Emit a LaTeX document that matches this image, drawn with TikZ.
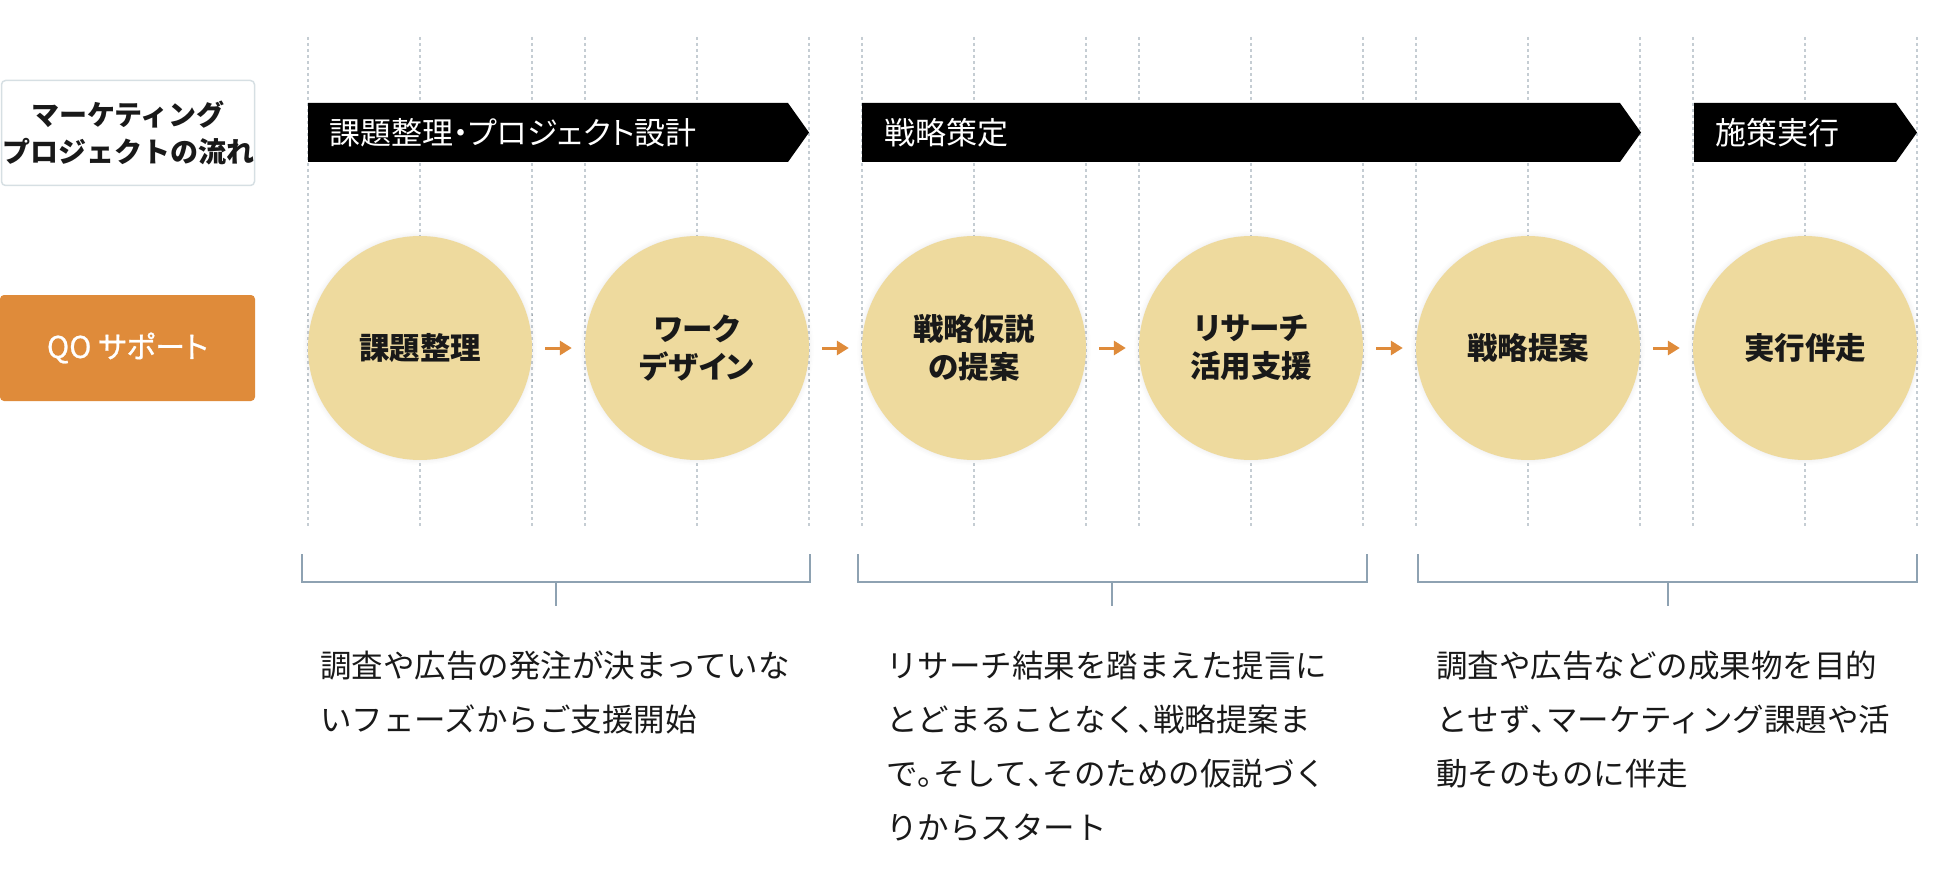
\documentclass[tikz,border=0pt]{standalone}
\usepackage{fontspec}
\setmainfont{Noto Sans CJK JP}
\newfontfamily\pfont[RawFeature=+palt]{Noto Sans CJK JP}
\newfontfamily\mfont[RawFeature=+palt,FakeBold=0.8]{Noto Sans CJK JP}
\usetikzlibrary{arrows.meta,shadows.blur}
\newcommand\hwp[1]{\makebox[0.5em][l]{#1}}
\definecolor{circfill}{HTML}{EEDA9E}
\definecolor{qoorange}{HTML}{DF8B3A}
\definecolor{dotgray}{HTML}{C5CDD3}
\definecolor{brk}{HTML}{8EA2B2}
\definecolor{boxline}{HTML}{D6DFE3}
\tikzset{
  guide/.style={draw=dotgray,line width=1.2pt,dash pattern=on 3pt off 3pt},
  stage/.style={circle,fill=circfill,minimum size=224pt,inner sep=0pt,align=center,
    font=\pfont\bfseries\fontsize{30.5}{38}\selectfont,text=black!90,
    blur shadow={shadow xshift=0pt,shadow yshift=0pt,shadow blur radius=5pt,shadow opacity=10}},
  flow/.style={draw=qoorange,line width=3pt,-{Triangle[length=12pt,width=14pt]},shorten <=13pt,shorten >=13pt},
  bannertext/.style={anchor=west,inner sep=0pt,text=white,font=\pfont\fontsize{31}{34}\selectfont},
  bracket/.style={draw=brk,line width=2pt},
  desc/.style={anchor=north west,inner sep=0pt,align=left,font=\fontsize{31.5}{54}\selectfont,text=black!90}
}
\begin{document}
\begin{tikzpicture}[x=1pt,y=-1pt]
\useasboundingbox (0,0) rectangle (1942,885);
% guide lines
\foreach \c in {420,697,974,1251,1528,1805}{
  \draw[guide] (\c-112,37) -- (\c-112,526);
  \draw[guide] (\c,37) -- (\c,526);
  \draw[guide] (\c+112,37) -- (\c+112,526);
}
% left labels
\node[draw=boxline,line width=1.5pt,rounded corners=4pt,minimum width=253pt,minimum height=105pt,
  inner sep=0pt,align=center,font=\bfseries\fontsize{28}{37}\selectfont,text=black!90] (flowlabel) at (128,133)
  {マーケティング\\プロジェクトの流れ};
\node[fill=qoorange,rounded corners=4pt,minimum width=255pt,minimum height=106pt,inner sep=0pt,
  text=white,font=\mfont\fontsize{30}{34}\selectfont] (qolabel) at (127.5,348) {QO サポート};
% banners
\fill[black] (308,103) -- (788,103) -- (809,132.5) -- (788,162) -- (308,162) -- cycle;
\node[bannertext] (b1) at (329,132.5) {課題整理・プロジェクト設計};
\fill[black] (862,103) -- (1620,103) -- (1641,132.5) -- (1620,162) -- (862,162) -- cycle;
\node[bannertext] (b2) at (884,132.5) {戦略策定};
\fill[black] (1694,103) -- (1896,103) -- (1917,132.5) -- (1896,162) -- (1694,162) -- cycle;
\node[bannertext] (b3) at (1715,132.5) {施策実行};
% circles
\node[stage] (c1) at (420,348) {課題整理};
\node[stage] (c2) at (697,348) {ワーク\\デザイン};
\node[stage] (c3) at (974,348) {戦略仮説\\の提案};
\node[stage] (c4) at (1251,348) {リサーチ\\活用支援};
\node[stage] (c5) at (1528,348) {戦略提案};
\node[stage] (c6) at (1805,348) {実行伴走};
\draw[flow] (c1) -- (c2);
\draw[flow] (c2) -- (c3);
\draw[flow] (c3) -- (c4);
\draw[flow] (c4) -- (c5);
\draw[flow] (c5) -- (c6);
% brackets
\draw[bracket] (302,554) -- (302,582) -- (810,582) -- (810,554);
\draw[bracket] (556,582) -- (556,606);
\draw[bracket] (858,554) -- (858,582) -- (1367,582) -- (1367,554);
\draw[bracket] (1112,582) -- (1112,606);
\draw[bracket] (1418,554) -- (1418,582) -- (1917,582) -- (1917,554);
\draw[bracket] (1668,582) -- (1668,606);
% descriptions
\node[desc] (d1) at (320,651) {調査や広告の発注が決まっていな\\いフェーズからご支援開始};
\node[desc] (d2) at (886,651) {リサーチ結果を踏まえた提言に\\とどまることなく\hwp{、}戦略提案ま\\で\hwp{。}そして\hwp{、}そのための仮説づく\\りからスタート};
\node[desc] (d3) at (1436,651) {調査や広告などの成果物を目的\\とせず\hwp{、}マーケティング課題や活\\動そのものに伴走};
\end{tikzpicture}
\end{document}
